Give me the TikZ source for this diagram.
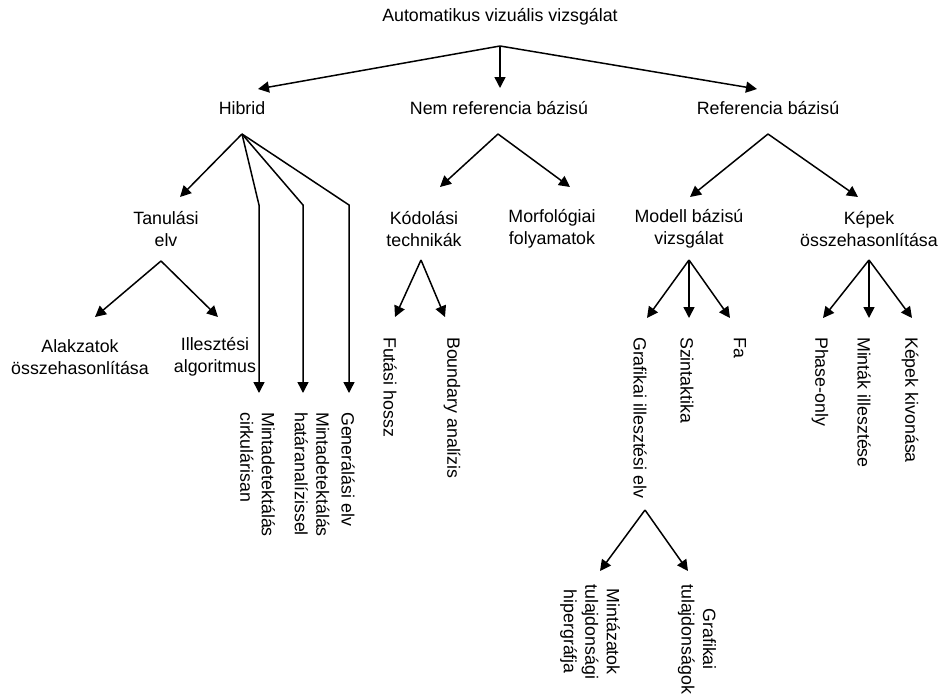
\documentclass[tikz,border=0pt]{standalone}
\usepackage{fontspec}
\setmainfont{Liberation Sans}
\usetikzlibrary{arrows.meta}
\begin{document}
\begin{tikzpicture}[x=1pt,y=-1pt,
  lbl/.style={inner sep=0pt, font=\fontsize{17.8}{21.5}\selectfont, align=center},
  vlbl/.style={inner sep=0pt, font=\fontsize{17.8}{21.5}\selectfont, align=left, rotate=-90, anchor=west},
  arr/.style={-{Triangle[length=11pt,width=11pt]}, line width=1.5pt}]
\useasboundingbox (0,0) rectangle (942,696);

% horizontal labels
\node[lbl] (root) at (500,17) {Automatikus vizuális vizsgálat};
\node[lbl] (hib) at (242,108) {Hibrid};
\node[lbl] (nem) at (499,108) {Nem referencia bázisú};
\node[lbl] (ref) at (768,108) {Referencia bázisú};
\node[lbl] (tan) at (166,229) {Tanulási\\elv};
\node[lbl] (kod) at (424,229) {Kódolási\\technikák};
\node[lbl] (mor) at (552,229) {Morfológiai\\folyamatok};
\node[lbl] (mod) at (689,229) {Modell bázisú\\vizsgálat};
\node[lbl] (kep) at (869,229) {Képek\\összehasonlítása};
\node[lbl] (alak) at (80,357) {Alakzatok\\összehasonlítása};
\node[lbl] (ill) at (215,357) {Illesztési\\algoritmus};

% rotated labels
\node[vlbl] (mc) at (257.5,412) {Mintadetektálás\\cirkulárisan};
\node[vlbl] (mh) at (312,412) {Mintadetektálás\\határanalízissel};
\node[vlbl] (gen) at (348,412) {Generálási elv};
\node[vlbl] (fut) at (390,337) {Futási hossz};
\node[vlbl] (bou) at (452,337) {Boundary analízis};
\node[vlbl] (gra) at (640,337) {Grafikai illesztési elv};
\node[vlbl] (szi) at (687,337) {Szintaktika};
\node[vlbl] (fa) at (740,337) {Fa};
\node[vlbl] (pha) at (820,337) {Phase-only};
\node[vlbl] (mia) at (864,337) {Minták illesztése};
\node[vlbl] (kki) at (910,337) {Képek kivonása};
\node[vlbl, align=center] (mint) at (590,584) {Mintázatok\\tulajdonsági\\hipergráfja};
\node[vlbl, align=center] (gtul) at (697,584) {Grafikai\\tulajdonságok};

% apex and tip coordinates
\coordinate (rootA) at (500,46);
\coordinate (hibT) at (258,89);
\coordinate (nemT) at (500,88);
\coordinate (refT) at (757,89);

\coordinate (hibA) at (242,134);
\coordinate (tanT) at (180,197);
\coordinate (k1) at (259,205);
\coordinate (k2) at (303,205);
\coordinate (k3) at (349,205);
\coordinate (mcT) at (259,393);
\coordinate (mhT) at (303,393);
\coordinate (genT) at (349,393);

\coordinate (nemA) at (498,134);
\coordinate (kodT) at (440,187);
\coordinate (morT) at (570,187);

\coordinate (refA) at (768,134);
\coordinate (modT) at (690,197);
\coordinate (kepT) at (858,197);

\coordinate (tanA) at (161,261);
\coordinate (alakT) at (95,317);
\coordinate (illT) at (218,317);

\coordinate (kodA) at (421,260);
\coordinate (futT) at (395,317);
\coordinate (bouT) at (445,317);

\coordinate (modA) at (689,260);
\coordinate (graT) at (647,318);
\coordinate (sziT) at (689,318);
\coordinate (faT) at (730,318);

\coordinate (kepA) at (869,260);
\coordinate (phaT) at (823,318);
\coordinate (miaT) at (869,318);
\coordinate (kkiT) at (912,318);

\coordinate (graA) at (645,510);
\coordinate (mintT) at (600,571);
\coordinate (gtulT) at (688,571);

% connectors
\draw[arr] (rootA) -- (hibT);
\draw[arr] (rootA) -- (nemT);
\draw[arr] (rootA) -- (refT);

\draw[arr] (hibA) -- (tanT);
\draw[arr] (hibA) -- (k1) -- (mcT);
\draw[arr] (hibA) -- (k2) -- (mhT);
\draw[arr] (hibA) -- (k3) -- (genT);

\draw[arr] (nemA) -- (kodT);
\draw[arr] (nemA) -- (morT);

\draw[arr] (refA) -- (modT);
\draw[arr] (refA) -- (kepT);

\draw[arr] (tanA) -- (alakT);
\draw[arr] (tanA) -- (illT);

\draw[arr] (kodA) -- (futT);
\draw[arr] (kodA) -- (bouT);

\draw[arr] (modA) -- (graT);
\draw[arr] (modA) -- (sziT);
\draw[arr] (modA) -- (faT);

\draw[arr] (kepA) -- (phaT);
\draw[arr] (kepA) -- (miaT);
\draw[arr] (kepA) -- (kkiT);

\draw[arr] (graA) -- (mintT);
\draw[arr] (graA) -- (gtulT);
\end{tikzpicture}
\end{document}
